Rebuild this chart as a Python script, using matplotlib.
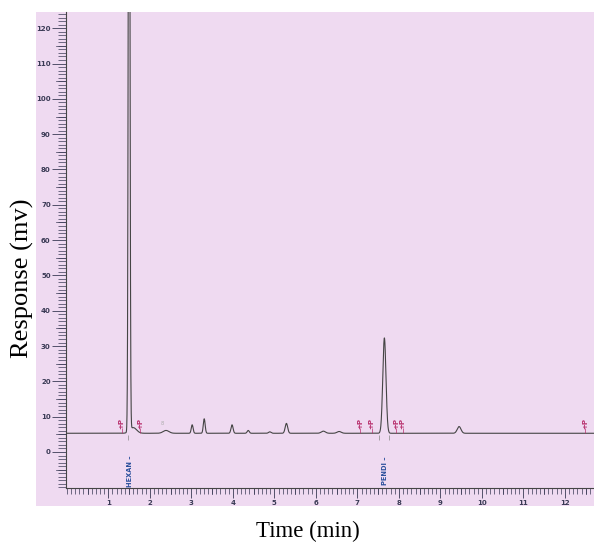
import matplotlib.pyplot as plt
import numpy as np
from matplotlib.patches import Rectangle
from matplotlib.ticker import MultipleLocator

# Peaks (retention time in min, height above baseline in mv, sigma in min)
peak_times = [1.50, 1.60, 2.39, 3.02, 3.31, 3.98, 4.37, 4.89, 5.29, 6.18, 6.56, 7.65, 9.45]
peak_heights = [255.0, 1.6, 0.8, 2.4, 4.1, 2.4, 0.8, 0.4, 2.8, 0.6, 0.5, 27.0, 1.9]
peak_sigmas = [0.018, 0.08, 0.07, 0.022, 0.022, 0.025, 0.025, 0.03, 0.03, 0.05, 0.05, 0.038, 0.045]
baseline_mv = 5.3

# Integration event marks "+P" and compound names
event_times = [1.32, 1.76, 7.06, 7.34, 7.94, 8.09, 12.48]
compound_names = ["HEXAN", "PENDI"]
compound_times = [1.53, 7.66]

x_ticks = list(range(1, 13))
y_ticks = list(range(0, 121, 10))

bg_color = "#efdaf1"
trace_color = "#454545"
event_color = "#b8306e"
name_color = "#2a4f9c"
tick_color = "#3a3a55"

# Time axis for the trace
t = np.linspace(-0.02, 12.70, 6000)
signal = np.full_like(t, baseline_mv)
for rt, h, s in zip(peak_times, peak_heights, peak_sigmas):
    signal += h * np.exp(-0.5 * ((t - rt) / s) ** 2)

fig = plt.figure(figsize=(5.94, 5.45), dpi=100)

# Scanned paper area
fig.patches.append(
    Rectangle((36 / 594, 1 - 506 / 545), (594 - 36) / 594, (506 - 12) / 545,
              transform=fig.transFigure, facecolor=bg_color, edgecolor="none", zorder=-10)
)

ax = fig.add_axes([66 / 594, 1 - 488 / 545, (594 - 66) / 594, (488 - 12) / 545])
ax.set_zorder(1)
ax.set_facecolor("none")
ax.set_xlim(-0.02, 12.70)
ax.set_ylim(-10.2, 124.6)

for side in ["top", "right"]:
    ax.spines[side].set_visible(False)
for side in ["left", "bottom"]:
    ax.spines[side].set_color(trace_color)
    ax.spines[side].set_linewidth(0.8)

# Trace
ax.plot(t, signal, color=trace_color, linewidth=0.8, clip_on=True)

# Peak limit ticks below the baseline
for rt in [1.47, 7.53, 7.77]:
    ax.vlines(rt, baseline_mv - 1.8, baseline_mv - 0.4, color="#888888", linewidth=0.5)

# Event marks
for et in event_times:
    ax.vlines(et, baseline_mv, baseline_mv + 1.5, color=event_color, linewidth=0.5)
    ax.text(et, baseline_mv + 2.9, "+P", rotation=90, ha="center", va="center",
            fontsize=5, color=event_color, fontweight="bold")
ax.text(2.30, 8.2, "8", ha="center", va="center", fontsize=3.5, color="#aaaaaa")

# Compound names
for name, ct in zip(compound_names, compound_times):
    ax.text(ct, -5.3, name + " \u2013", rotation=90, ha="center", va="center",
            fontsize=4.8, color=name_color, fontweight="bold")

# Ticks
ax.xaxis.set_major_locator(MultipleLocator(1))
ax.xaxis.set_minor_locator(MultipleLocator(0.1))
ax.yaxis.set_major_locator(MultipleLocator(10))
ax.yaxis.set_minor_locator(MultipleLocator(1))
ax.set_xticks(x_ticks)
ax.set_yticks(y_ticks)
ax.set_xticklabels([str(v) for v in x_ticks])
ax.set_yticklabels([str(v) for v in y_ticks])
ax.tick_params(axis="x", which="major", direction="out", length=7, width=0.6,
               pad=1.5, labelsize=5, colors=tick_color)
ax.tick_params(axis="x", which="minor", direction="out", length=4.5, width=0.5,
               colors=tick_color)
ax.tick_params(axis="y", which="major", direction="out", length=10, width=0.6,
               pad=1, labelsize=5, colors=tick_color)
ax.tick_params(axis="y", which="minor", direction="out", length=5.5, width=0.5,
               colors=tick_color)
for lab in ax.get_xticklabels() + ax.get_yticklabels():
    lab.set_fontweight("bold")

# Half-step ticks a bit longer
for v in np.arange(0.5, 12.7, 1.0):
    ax.plot([v, v], [0, -0.012], transform=ax.get_xaxis_transform(), color=tick_color,
            linewidth=0.5, clip_on=False)
for v in np.arange(-5, 125, 10):
    ax.plot([0, -0.018], [v, v], transform=ax.get_yaxis_transform(), color=tick_color,
            linewidth=0.5, clip_on=False)

# Axis titles
fig.text(22 / 594, 1 - 278 / 545, "Response (mv)", rotation=90, ha="center", va="center",
         fontsize=19, family="Liberation Serif")
fig.text(308 / 594, 1 - 531 / 545, "Time (min)", ha="center", va="center",
         fontsize=16.5, family="Liberation Serif")

plt.savefig("out.png", dpi=100)
